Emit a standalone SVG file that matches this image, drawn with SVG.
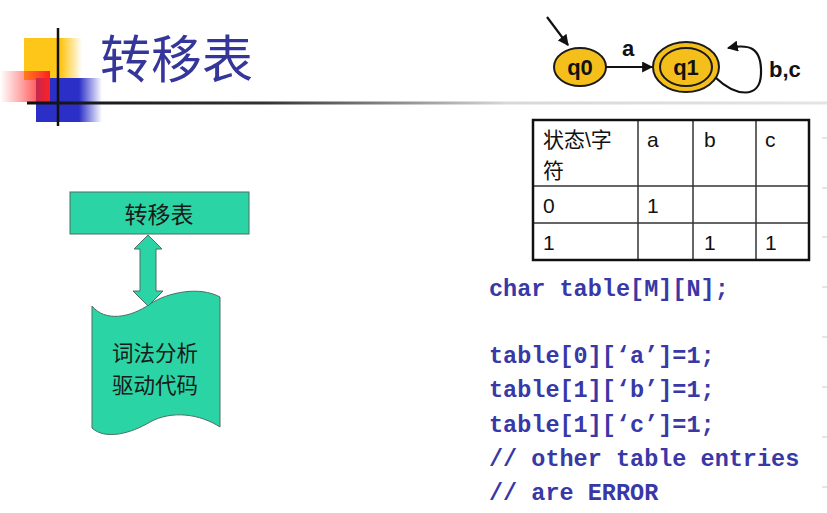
<svg xmlns="http://www.w3.org/2000/svg" width="827" height="513" viewBox="0 0 827 513">
<defs>
<linearGradient id="gYel" x1="0" y1="0" x2="1" y2="0"><stop offset="0" stop-color="#ffc61a"/><stop offset="0.65" stop-color="#ffc61a"/><stop offset="1" stop-color="#ffc61a" stop-opacity="0"/></linearGradient>
<linearGradient id="gRed" x1="0" y1="0" x2="1" y2="0"><stop offset="0" stop-color="#ff3030" stop-opacity="0"/><stop offset="1" stop-color="#ff2020"/></linearGradient>
<linearGradient id="gBlue" x1="0" y1="0" x2="1" y2="0"><stop offset="0" stop-color="#2b2fc8"/><stop offset="0.65" stop-color="#2b2fc8"/><stop offset="1" stop-color="#2b2fc8" stop-opacity="0"/></linearGradient>
<linearGradient id="gLine" x1="27" y1="0" x2="827" y2="0" gradientUnits="userSpaceOnUse"><stop offset="0" stop-color="#111"/><stop offset="0.3" stop-color="#333"/><stop offset="0.6" stop-color="#d8d8d8"/><stop offset="1" stop-color="#e4e4e4"/></linearGradient>
<marker id="ah" viewBox="0 0 10 10" refX="9" refY="5" markerWidth="5" markerHeight="5" orient="auto"><path d="M0,0 L10,5 L0,10 Z" fill="#111"/></marker>
</defs>
<style>
.cjk{font-family:"Noto Sans CJK SC","Noto Sans",sans-serif}
.st{fill:#f5bf1b;stroke:#1a1a1a;stroke-width:2}
.lbl{font-family:"Liberation Sans","Noto Sans",sans-serif;font-weight:bold;font-size:22px;fill:#111}
.edge{fill:none;stroke:#111;stroke-width:2.2}
.tc{font-family:"Liberation Sans","Noto Sans CJK SC",sans-serif;font-size:21px;fill:#111}
.code{font-family:"Liberation Mono",monospace;font-weight:bold;font-size:23.5px;fill:#3838a6}
.teal{fill:#2ad4a4;stroke:#4d6e64;stroke-width:1}
</style>
<rect width="827" height="513" fill="#fff"/>
<g id="decoration">
<rect x="24" y="38" width="58" height="42" fill="url(#gYel)"/>
<rect x="36" y="78" width="66" height="44" fill="url(#gBlue)"/>
<rect x="0" y="71" width="50" height="31" fill="url(#gRed)"/>
<line x1="58" y1="28" x2="58" y2="126" stroke="#111" stroke-width="2.5"/>
<line x1="27" y1="103" x2="827" y2="103" stroke="url(#gLine)" stroke-width="3"/>
<g stroke="#d4d4d4" stroke-width="1.2">
<line x1="822" y1="138" x2="827" y2="138"/><line x1="822" y1="188" x2="827" y2="188"/><line x1="822" y1="237" x2="827" y2="237"/><line x1="822" y1="287" x2="827" y2="287"/><line x1="822" y1="337" x2="827" y2="337"/><line x1="822" y1="387" x2="827" y2="387"/><line x1="822" y1="437" x2="827" y2="437"/><line x1="822" y1="487" x2="827" y2="487"/>
</g>
</g>
<text id="title" class="cjk" x="100" y="78" font-size="51" fill="#35369a">转移表</text>
<g id="fsm">
<g id="q0"><ellipse class="st" cx="580" cy="67" rx="26" ry="19"/><text class="lbl" x="580" y="75" text-anchor="middle">q0</text></g>
<g id="q1"><ellipse class="st" cx="686" cy="67" rx="33" ry="25"/><ellipse fill="none" stroke="#1a1a1a" stroke-width="2" cx="686" cy="67" rx="26" ry="19"/><text class="lbl" x="686" y="75" text-anchor="middle">q1</text></g>
<g id="fsm-edges">
<line class="edge" x1="547" y1="17" x2="568" y2="45" marker-end="url(#ah)"/>
<line class="edge" x1="606" y1="67" x2="652" y2="67" marker-end="url(#ah)"/>
<path class="edge" d="M716,78 C735,96 760,100 761,74 C762,46 748,44 728,48" marker-end="url(#ah)"/>
<text class="lbl" x="628" y="56" text-anchor="middle" font-size="25">a</text>
<text class="lbl" x="769" y="77" font-size="24">b,c</text>
</g>
</g>
<g id="table">
<g stroke="#333" stroke-width="1.5">
<line x1="638" y1="120" x2="638" y2="260"/><line x1="693" y1="120" x2="693" y2="260"/><line x1="756" y1="120" x2="756" y2="260"/>
<line x1="533" y1="186" x2="809" y2="186"/><line x1="533" y1="223" x2="809" y2="223"/>
</g>
<rect x="533" y="120" width="276" height="140" fill="none" stroke="#111" stroke-width="2.5"/>
<text class="tc" x="543" y="147">状态\字</text>
<text class="tc" x="543" y="178">符</text>
<text class="tc" x="647" y="147">a</text>
<text class="tc" x="704" y="147">b</text>
<text class="tc" x="765" y="147">c</text>
<text class="tc" x="543" y="213">0</text>
<text class="tc" x="647" y="213">1</text>
<text class="tc" x="543" y="250">1</text>
<text class="tc" x="704" y="250">1</text>
<text class="tc" x="765" y="250">1</text>
</g>
<g id="code">
<text class="code" x="489" y="296">char table[M][N];</text>
<text class="code" x="489" y="363">table[0][‘a’]=1;</text>
<text class="code" x="489" y="397">table[1][‘b’]=1;</text>
<text class="code" x="489" y="432">table[1][‘c’]=1;</text>
<text class="code" x="489" y="466">// other table entries</text>
<text class="code" x="489" y="500">// are ERROR</text>
</g>
<g id="node-table">
<rect class="teal" x="70" y="192" width="179" height="42"/>
<text class="cjk" x="159" y="223" font-size="23" text-anchor="middle" fill="#1a1a1a">转移表</text>
</g>
<g id="node-driver">
<path class="teal" d="M92,306 C105,322 130,318 150,304 C168,292 200,286 220,297 L220,427 C200,414 172,410 150,422 C130,434 105,440 92,428 Z"/>
<text class="cjk" x="155" y="361" font-size="21.5" text-anchor="middle" fill="#1a1a1a">词法分析</text>
<text class="cjk" x="155" y="393" font-size="21.5" text-anchor="middle" fill="#1a1a1a">驱动代码</text>
</g>
<g id="connectors">
<polygon class="teal" points="148,235 162,249 156,249 156,291 163,291 148,306 133,291 140,291 140,249 134,249"/>
</g>
</svg>
